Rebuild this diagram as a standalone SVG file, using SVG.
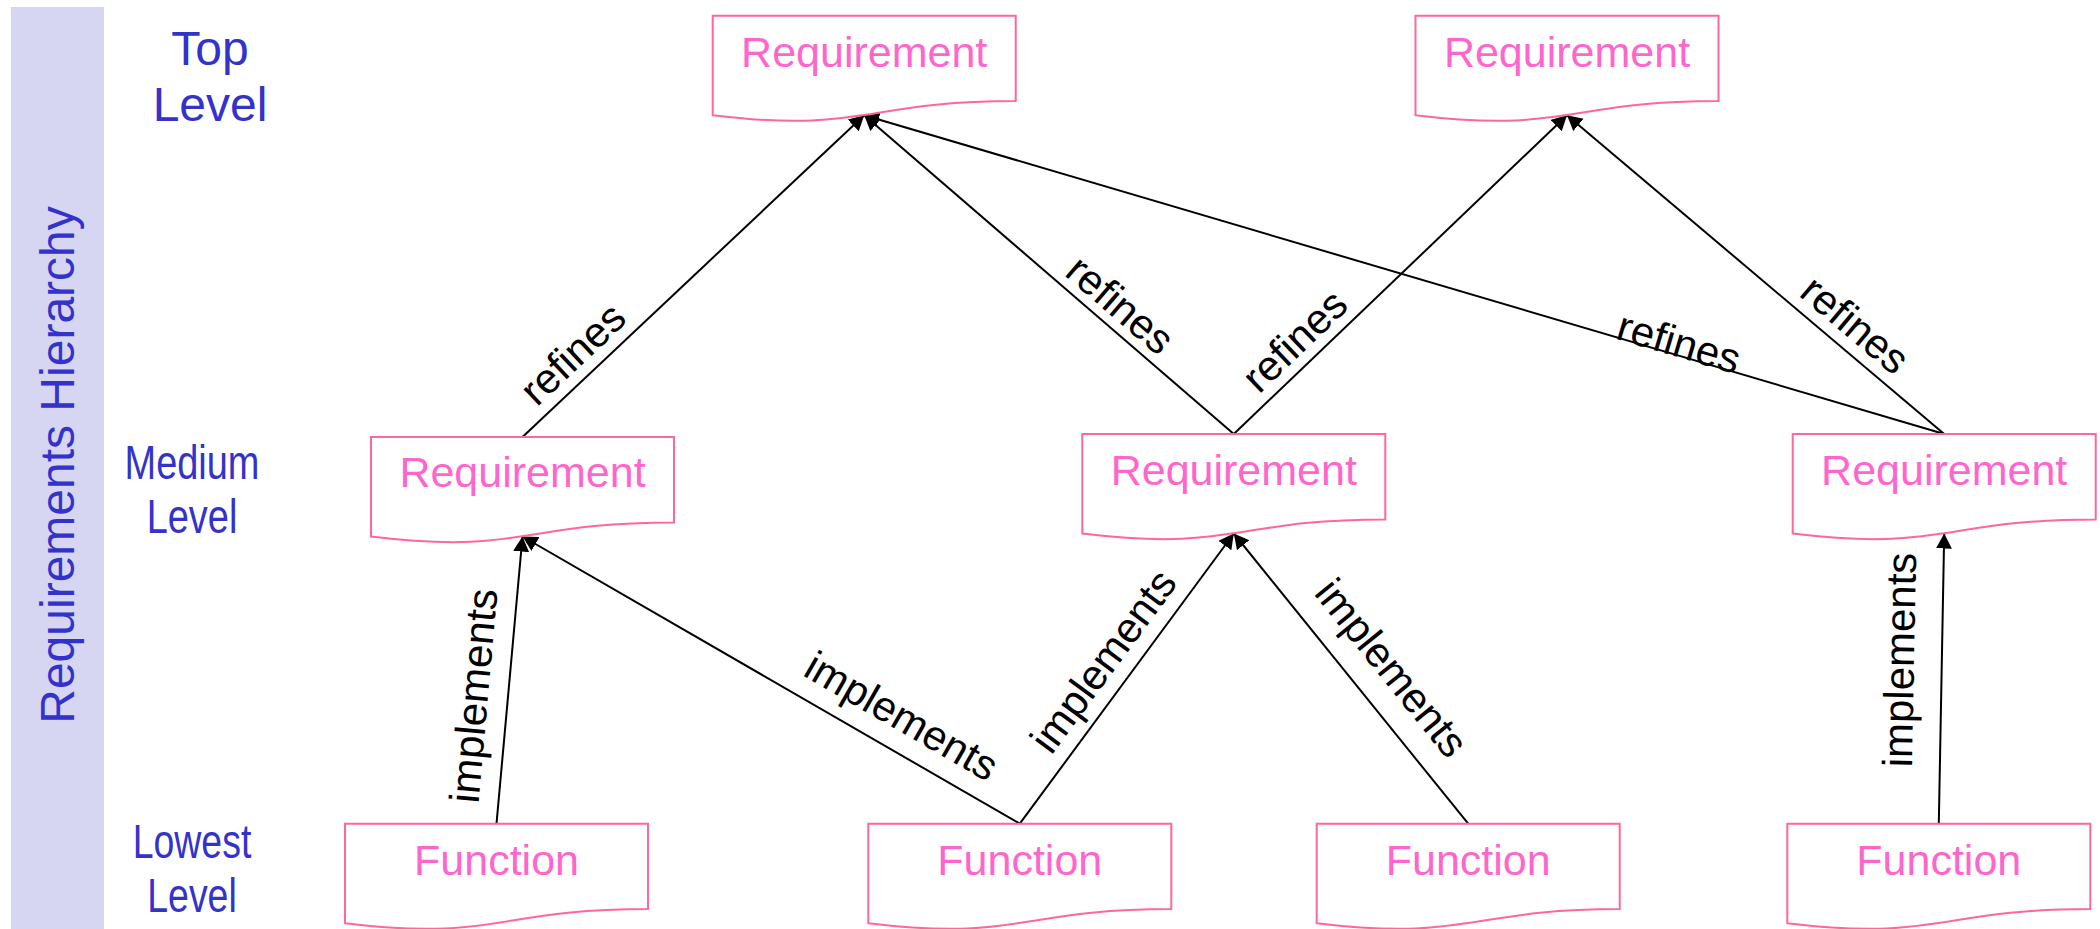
<svg xmlns="http://www.w3.org/2000/svg" xmlns:xlink="http://www.w3.org/1999/xlink" width="2100" height="929" viewBox="0 0 2100 929">
  <style>
    .doc { fill: #ffffff; stroke: #ff6699; stroke-width: 2; }
    .node-text { font-family: "Liberation Sans", Arial, sans-serif; font-size: 43px; fill: #ff66cc; text-anchor: middle; }
    .level { font-family: "Liberation Sans", Arial, sans-serif; font-size: 48px; fill: #3333cc; text-anchor: middle; }
    .edge { stroke: #000000; stroke-width: 2; fill: none; marker-end: url(#arrow); }
    .edge-label { font-family: "Liberation Sans", Arial, sans-serif; font-size: 42px; fill: #000000; text-anchor: middle; }
  </style>
  <defs>
    <!-- document shape: flat top, wavy bottom -->
    <path id="docShape" d="M0,0 H303 V85.4 C151.5,85.4 151.5,118 0,99.5 Z"/>
    <marker id="arrow" markerUnits="userSpaceOnUse" markerWidth="16" markerHeight="17" refX="15" refY="8" orient="auto">
      <path d="M0,0 L15,8 L0,16 Z" fill="#000000"/>
    </marker>
  </defs>

  <rect width="2100" height="929" fill="#ffffff"/>

  <!-- side band -->
  <g id="hierarchy-band">
    <rect x="11" y="7" width="93" height="922" fill="#d6d6f2"/>
    <text class="level" transform="translate(74,465) rotate(-90)">Requirements Hierarchy</text>
  </g>

  <!-- level captions -->
  <g id="level-top">
    <text class="level" x="210" y="65">Top</text>
    <text class="level" x="210" y="121">Level</text>
  </g>
  <g id="level-medium" transform="translate(192,0) scale(0.79,1)">
    <text class="level" x="0" y="479">Medium</text>
    <text class="level" x="0" y="533">Level</text>
  </g>
  <g id="level-lowest" transform="translate(192,0) scale(0.78,1)">
    <text class="level" x="0" y="858">Lowest</text>
    <text class="level" x="0" y="912">Level</text>
  </g>

  <!-- connectors -->
  <g id="connectors">
    <line class="edge" x1="522.5" y1="437" x2="864.2" y2="115.2"/>
    <line class="edge" x1="1233.8" y1="434" x2="864.2" y2="115.2"/>
    <line class="edge" x1="1944.2" y1="434" x2="864.2" y2="115.2"/>
    <line class="edge" x1="1233.8" y1="434" x2="1567" y2="115.2"/>
    <line class="edge" x1="1944.2" y1="434" x2="1567" y2="115.2"/>
    <line class="edge" x1="496.5" y1="823.7" x2="522.5" y2="536.5"/>
    <line class="edge" x1="1019.8" y1="823.7" x2="522.5" y2="536.5"/>
    <line class="edge" x1="1019.8" y1="823.7" x2="1233.8" y2="533.5"/>
    <line class="edge" x1="1468.2" y1="823.7" x2="1233.8" y2="533.5"/>
    <line class="edge" x1="1938.8" y1="823.7" x2="1944.2" y2="533.5"/>

    <text class="edge-label" transform="translate(573,354) rotate(-43.3)" y="14">refines</text>
    <text class="edge-label" transform="translate(1120,305) rotate(40.8)" y="14">refines</text>
    <text class="edge-label" transform="translate(1295,341) rotate(-43.7)" y="14">refines</text>
    <text class="edge-label" transform="translate(1679,343) rotate(16.45)" y="14">refines</text>
    <text class="edge-label" transform="translate(1855,325) rotate(40.2)" y="14">refines</text>

    <text class="edge-label" transform="translate(477,696) rotate(-84.9)" y="11" font-size="44">implements</text>
    <text class="edge-label" transform="translate(900,719) rotate(30)" y="11">implements</text>
    <text class="edge-label" transform="translate(1106,663) rotate(-53.6)" y="11">implements</text>
    <text class="edge-label" transform="translate(1389,670) rotate(51.05)" y="11">implements</text>
    <text class="edge-label" transform="translate(1902,660) rotate(-88.9)" y="12" font-size="50">implements</text>
  </g>

  <!-- top level requirements -->
  <g id="req-top-1">
    <use xlink:href="#docShape" class="doc" x="712.7" y="15.7"/>
    <text class="node-text" x="864.2" y="66.7">Requirement</text>
  </g>
  <g id="req-top-2">
    <use xlink:href="#docShape" class="doc" x="1415.5" y="15.7"/>
    <text class="node-text" x="1567" y="66.7">Requirement</text>
  </g>

  <!-- medium level requirements -->
  <g id="req-mid-1">
    <use xlink:href="#docShape" class="doc" x="371" y="437"/>
    <text class="node-text" x="522.5" y="487">Requirement</text>
  </g>
  <g id="req-mid-2">
    <use xlink:href="#docShape" class="doc" x="1082.3" y="434"/>
    <text class="node-text" x="1233.8" y="485">Requirement</text>
  </g>
  <g id="req-mid-3">
    <use xlink:href="#docShape" class="doc" x="1792.7" y="434"/>
    <text class="node-text" x="1944.2" y="485">Requirement</text>
  </g>

  <!-- lowest level functions -->
  <g id="func-1">
    <use xlink:href="#docShape" class="doc" x="345" y="823.7"/>
    <text class="node-text" x="496.5" y="875">Function</text>
  </g>
  <g id="func-2">
    <use xlink:href="#docShape" class="doc" x="868.3" y="823.7"/>
    <text class="node-text" x="1019.8" y="875">Function</text>
  </g>
  <g id="func-3">
    <use xlink:href="#docShape" class="doc" x="1316.7" y="823.7"/>
    <text class="node-text" x="1468.2" y="875">Function</text>
  </g>
  <g id="func-4">
    <use xlink:href="#docShape" class="doc" x="1787.3" y="823.7"/>
    <text class="node-text" x="1938.8" y="875">Function</text>
  </g>
</svg>
